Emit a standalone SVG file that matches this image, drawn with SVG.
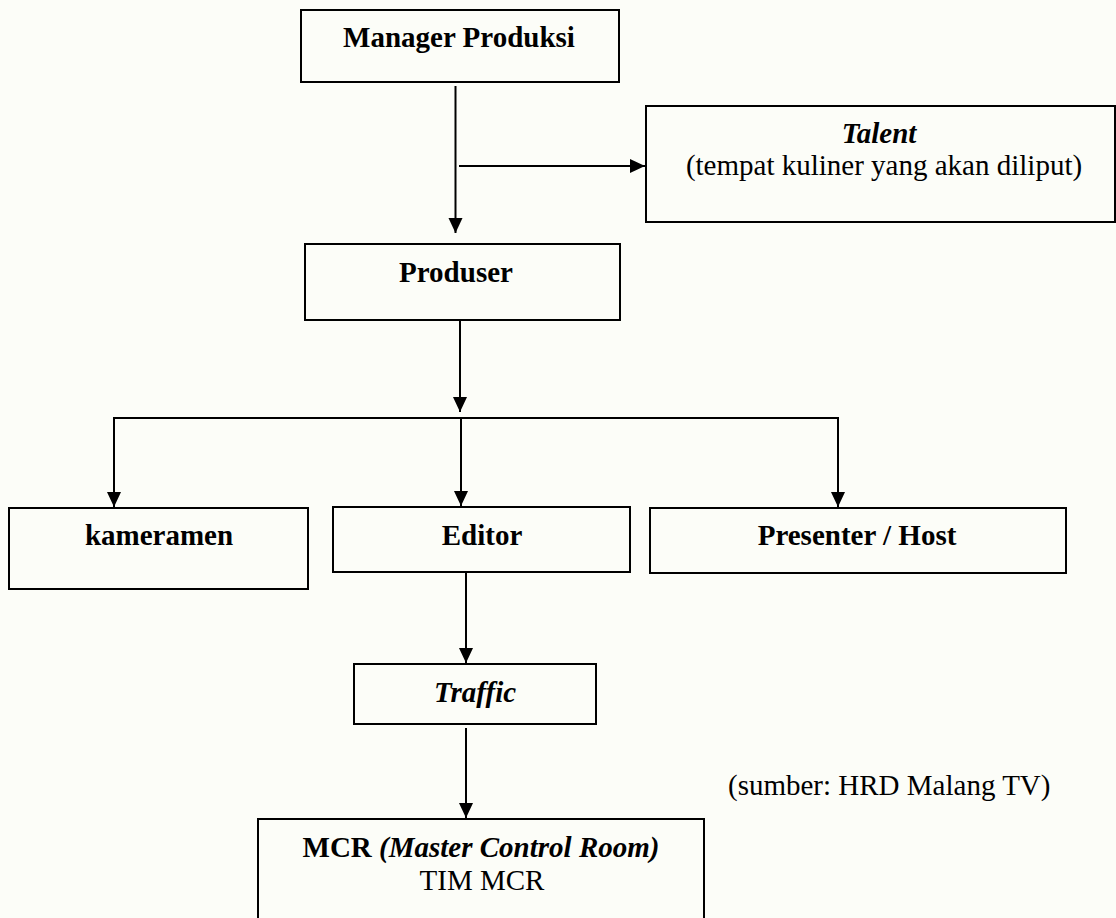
<svg xmlns="http://www.w3.org/2000/svg" width="1116" height="918" viewBox="0 0 1116 918">
  <style>
    .box { fill: none; stroke: #000; stroke-width: 2; }
    .link { fill: none; stroke: #000; stroke-width: 2; }
    .t { font-family: "Liberation Serif", "Times New Roman", serif; font-size: 29px; fill: #000; text-anchor: middle; }
    .b { font-weight: bold; }
    .i { font-style: italic; }
  </style>
  <defs>
    <marker id="arrow" markerUnits="userSpaceOnUse" markerWidth="16" markerHeight="16" viewBox="0 0 16 16" refX="15" refY="8" orient="auto">
      <path d="M0,1 L15,8 L0,15 Z" fill="#000"/>
    </marker>
  </defs>

  <rect width="1116" height="918" fill="#fcfdf8"/>

  <!-- connectors -->
  <g id="connectors">
    <line class="link" x1="455.5" y1="86" x2="455.5" y2="233" marker-end="url(#arrow)"/>
    <line class="link" x1="459" y1="166" x2="645" y2="166" marker-end="url(#arrow)"/>
    <line class="link" x1="460" y1="320" x2="460" y2="412" marker-end="url(#arrow)"/>
    <line class="link" x1="113" y1="418" x2="839" y2="418"/>
    <line class="link" x1="114" y1="418" x2="114" y2="507" marker-end="url(#arrow)"/>
    <line class="link" x1="461" y1="418" x2="461" y2="506" marker-end="url(#arrow)"/>
    <line class="link" x1="838" y1="418" x2="838" y2="507" marker-end="url(#arrow)"/>
    <line class="link" x1="466" y1="573" x2="466" y2="663" marker-end="url(#arrow)"/>
    <line class="link" x1="466" y1="728" x2="466" y2="818" marker-end="url(#arrow)"/>
  </g>

  <g id="manager">
    <rect class="box" x="301" y="10" width="318" height="72"/>
    <text class="t b" x="459" y="47">Manager Produksi</text>
  </g>

  <g id="talent">
    <rect class="box" x="646" y="106" width="469" height="116"/>
    <text class="t b i" x="879" y="143">Talent</text>
    <text class="t" x="884" y="175">(tempat kuliner yang akan diliput)</text>
  </g>

  <g id="produser">
    <rect class="box" x="305" y="244" width="315" height="76"/>
    <text class="t b" x="456" y="282">Produser</text>
  </g>

  <g id="kameramen">
    <rect class="box" x="9" y="508" width="299" height="81"/>
    <text class="t b" x="159" y="545">kameramen</text>
  </g>

  <g id="editor">
    <rect class="box" x="333" y="507" width="297" height="65"/>
    <text class="t b" x="482" y="545">Editor</text>
  </g>

  <g id="presenter">
    <rect class="box" x="650" y="508" width="416" height="65"/>
    <text class="t b" x="857" y="545">Presenter / Host</text>
  </g>

  <g id="traffic">
    <rect class="box" x="354" y="664" width="242" height="60"/>
    <text class="t b i" x="475" y="702">Traffic</text>
  </g>

  <g id="mcr">
    <rect class="box" x="258" y="819" width="446" height="102"/>
    <text class="t" x="481" y="857"><tspan class="b">MCR </tspan><tspan class="b i">(Master Control Room)</tspan></text>
    <text class="t" x="482" y="890">TIM MCR</text>
  </g>

  <text class="t" x="728" y="795" style="text-anchor: start">(sumber: HRD Malang TV)</text>
</svg>
